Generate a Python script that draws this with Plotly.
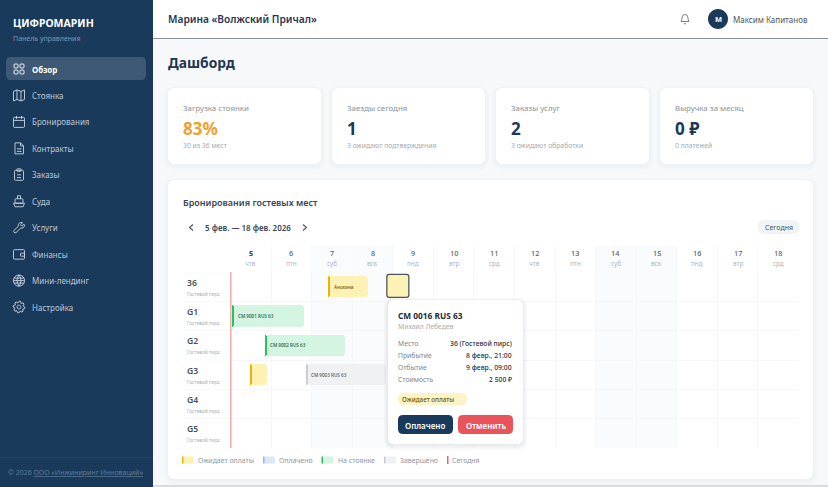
import math
import re

import plotly.graph_objects as go

W = 828
H = 487

#######################################################################################################################
# Data #
#######################################################################################################################

nav_items = ["Обзор", "Стоянка", "Бронирования", "Контракты", "Заказы", "Суда", "Услуги", "Финансы", "Мини-лендинг",
             "Настройка"]

card_titles = ["Загрузка стоянки", "Заезды сегодня", "Заказы услуг", "Выручка за месяц"]
card_values = ["83%", "1", "2", "0 ₽"]
card_notes = ["30 из 36 мест", "3 ожидают подтверждения", "3 ожидают обработки", "0 платежей"]

days = [5, 6, 7, 8, 9, 10, 11, 12, 13, 14, 15, 16, 17, 18]
weekdays = ["чтв", "птн", "суб", "вск", "пнд", "втр", "срд", "чтв", "птн", "суб", "вск", "пнд", "втр", "срд"]
weekend_days = [7, 8, 14, 15]
today = 5.0

berths = ["36", "G1", "G2", "G3", "G4", "G5"]
berth_note = "Гостевой пирс"

# start / end as day of February with the hour as a fraction
booking_berth = ["36", "G1", "G2", "G3", "G3"]
booking_start = [7.4, 5.03, 5.83, 5.46, 6.84]
booking_end = [8.37, 6.8, 7.82, 5.88, 8.82]
booking_status = ["pending", "parked", "parked", "pending", "done"]
booking_label = ["Анохина", "CM 9001 RUS 63", "CM 9002 RUS 63", "", "CM 9003 RUS 63"]

selected_berth = "36"
selected_start = 8.875
selected_end = 9.42

popup_fields = ["Место", "Прибытие", "Отбытие", "Стоимость"]
popup_values = ["36 (Гостевой пирс)", "8 февр., 21:00", "9 февр., 09:00", "2 500 ₽"]

legend_names = ["Ожидает оплаты", "Оплачено", "На стоянке", "Завершено"]

#######################################################################################################################
# Helpers #
#######################################################################################################################

FONT = "Noto Sans"
NAVY = "#1a3a5c"
body_colors = {"pending": "#fdf1b4", "paid": "#dbe8fb", "parked": "#d4f5e2", "done": "#f0f1f3"}
edge_colors = {"pending": "#eab308", "paid": "#93b8ee", "parked": "#22c55e", "done": "#c9ced4"}

shapes = []
annotations = []


def to_paper(d, ox=0, oy=0):
    return re.sub(r"(-?[\d.]+),(-?[\d.]+)",
                  lambda m: f"{(float(m[1]) + ox) / W:.5f},{1 - (float(m[2]) + oy) / H:.5f}", d)


def rrect(x0, y0, x1, y1, r):
    return (f"M{x0 + r},{y0} L{x1 - r},{y0} Q{x1},{y0} {x1},{y0 + r} L{x1},{y1 - r} Q{x1},{y1} {x1 - r},{y1} "
            f"L{x0 + r},{y1} Q{x0},{y1} {x0},{y1 - r} L{x0},{y0 + r} Q{x0},{y0} {x0 + r},{y0} Z ")


def ring(cx, cy, r):
    k = r * 0.552
    return (f"M{cx - r},{cy} C{cx - r},{cy - k} {cx - k},{cy - r} {cx},{cy - r} C{cx + k},{cy - r} {cx + r},{cy - k} "
            f"{cx + r},{cy} C{cx + r},{cy + k} {cx + k},{cy + r} {cx},{cy + r} C{cx - k},{cy + r} {cx - r},{cy + k} "
            f"{cx - r},{cy} Z ")


def fill_path(d, color, layer="below", ox=0, oy=0):
    shapes.append(dict(type="path", path=to_paper(d, ox, oy), xref="paper", yref="paper", fillcolor=color,
                       line=dict(width=0), layer=layer))


def stroke_path(d, color, width=1.0, layer="below", ox=0, oy=0):
    shapes.append(dict(type="path", path=to_paper(d, ox, oy), xref="paper", yref="paper",
                       line=dict(color=color, width=width), layer=layer))


def box(x0, y0, x1, y1, color, layer="below"):
    shapes.append(dict(type="rect", xref="paper", yref="paper", x0=x0 / W, x1=x1 / W, y0=1 - y1 / H, y1=1 - y0 / H,
                       fillcolor=color, line=dict(width=0), layer=layer))


def panel(x0, y0, x1, y1, r=7, layer="below", shadow=0.012):
    for grow, drop in [(4, 2), (2.5, 1.5), (1.2, 1)]:
        fill_path(rrect(x0 - grow, y0 - grow + drop, x1 + grow, y1 + grow + drop, r + grow),
                  f"rgba(30,50,80,{shadow})", layer)
    fill_path(rrect(x0, y0, x1, y1, r), "#ffffff", layer)


def text(x, y, s, size, color, weight=400, anchor="left"):
    # left aligned text renders about a pixel to the right of the anchor
    shift = -1 if anchor == "left" else 0
    annotations.append(dict(x=(x + shift) / W, y=1 - y / H, xref="paper", yref="paper", text=s, showarrow=False,
                            xanchor=anchor, yanchor="middle", borderpad=0,
                            font=dict(family=FONT, size=size, color=color, weight=weight)))


#######################################################################################################################
# Page chrome #
#######################################################################################################################

box(0, 0, W, H, "#f6f8fa")
box(0, 0, 153, H, NAVY)
box(153, 0, W, 38, "#ffffff")
box(153, 38, W, 39, "#8b9096")
box(153, 485, W, H, "#d9dcdf")

text(13, 23, "ЦИФРОМАРИН", 10.5, "#ffffff", 700)
text(13, 38, "Панель управления", 7, "#8398ae")
fill_path(rrect(6, 57, 146, 80, 5), "rgba(255,255,255,0.16)")

gear = ""
for i in range(24):
    rad = 5.8 if i % 3 != 2 else 4.2
    ang = i * math.pi / 12
    gear += f"{'M' if i == 0 else 'L'}{rad * math.cos(ang):.2f},{rad * math.sin(ang):.2f} "
gear += "Z " + ring(0, 0, 1.9)

nav_icons = [
    rrect(-5, -5, -1, -1, 1) + rrect(1, -5, 5, -1, 1) + rrect(-5, 1, -1, 5, 1) + rrect(1, 1, 5, 5, 1),
    "M-5.5,-4 L-2,-5.5 L2,-4 L5.5,-5.5 L5.5,4 L2,5.5 L-2,4 L-5.5,5.5 Z M-2,-5.5 L-2,4 M2,-4 L2,5.5",
    rrect(-5.5, -4.5, 5.5, 5.5, 1) + "M-5.5,-1.5 L5.5,-1.5 M-2.5,-6 L-2.5,-3 M2.5,-6 L2.5,-3",
    "M-4,-5.5 L1.5,-5.5 L4.5,-2.5 L4.5,5.5 L-4,5.5 Z M1.5,-5.5 L1.5,-2.5 L4.5,-2.5 M-2,0.5 L2.5,0.5 M-2,3 L2.5,3",
    rrect(-4.5, -4.5, 4.5, 5.5, 1) + rrect(-2, -6, 2, -3.5, 0.5) + "M-2,0 L2,0 M-2,2.8 L2,2.8",
    "M-5.5,2 L-4,5.5 L4,5.5 L5.5,2 Z " + rrect(-4, -2.5, 4, 2, 1) + "M-1.5,-2.5 L-1.5,-5.5 L1.5,-5.5 L1.5,-2.5",
    "M5,-3.5 L3,-1.5 L1.5,-3 L3.5,-5 Q0.5,-6 -0.5,-3.5 Q-0.7,-2.5 -0.5,-1.8 L-5,2.8 Q-5.5,3.5 -5,4.5 "
    "Q-4,5.5 -3,5 L1.5,0.5 Q4.5,1 5.5,-1.5 Q5.8,-2.5 5,-3.5 Z",
    rrect(-5.5, -4.5, 5.5, 5, 1) + rrect(1.5, -1, 5.5, 2, 0.5),
    ring(0, 0, 5.6) + "M0,-5.5 Q-4,0 0,5.5 Q4,0 0,-5.5 M-5.5,0 L5.5,0 M-5,-2.5 L5,-2.5 M-5,2.5 L5,2.5",
    gear,
]

for i, name in enumerate(nav_items):
    cy = 69 + i * 26.45
    active = i == 0
    stroke_path(nav_icons[i], "#ffffff" if active else "#cdd6e0", 0.9, ox=19, oy=cy)
    text(32, cy, name, 8, "#ffffff" if active else "#bcc8d5", 700 if active else 400)

box(0, 457, 153, 458, "rgba(255,255,255,0.05)")
text(8, 472, "© 2026 <u>ООО «Инжиниринг Инноваций»</u>", 7, "#5f7b98")

# Top bar
text(168, 19, "Марина «Волжский Причал»", 10.2, "#1f3550", 600)
stroke_path("M-4,2.5 Q-3,1 -3,-1 Q-3,-4.5 0,-4.5 Q3,-4.5 3,-1 Q3,1 4,2.5 Z M-1,4.5 Q0,5.5 1,4.5", "#6b747d", 0.9,
            ox=685, oy=19)
fill_path(ring(718, 19, 10), NAVY)
text(718, 19.5, "М", 7.5, "#ffffff", 700, "center")
text(733, 19.5, "Максим Капитанов", 8, "#4c5660")

text(168, 63, "Дашборд", 13.8, "#1f3550", 700)

# Stat cards
card_left = [168, 332, 496, 660]
card_right = [321, 485, 649, 813]
value_colors = ["#f0a030", NAVY, NAVY, NAVY]
for i in range(4):
    panel(card_left[i], 88, card_right[i], 164)
    text(card_left[i] + 15, 108, card_titles[i], 7.9, "#8a9299")
    text(card_left[i] + 15, 128, card_values[i], 17, value_colors[i], 700)
    text(card_left[i] + 15, 145, card_notes[i], 6.8, "#a5abb2")

# Schedule card
panel(168, 180, 813, 479)
text(183, 202, "Бронирования гостевых мест", 9, "#3a4654", 600)
stroke_path("M193,224.5 L189.5,227.5 L193,230.5", "#4a5560", 1.1)
text(205, 227, "5 фев. — 18 фев. 2026", 8, "#3a4654", 600)
stroke_path("M303,224.5 L306.5,227.5 L303,230.5", "#4a5560", 1.1)
fill_path(rrect(758, 220, 799, 234, 6), "#f1f4f7")
text(778.5, 227, "Сегодня", 7, "#4a5560", 400, "center")

#######################################################################################################################
# Schedule grid #
#######################################################################################################################

GRID_L, GRID_R, GRID_T, GRID_B = 230.5, 798.5, 272, 448
HEAD_T = 246
row_of = {name: i for i, name in enumerate(berths)}
GRID = "#f6f7f9"

for d in weekend_days:
    shapes.append(dict(type="rect", xref="x", yref="paper", x0=d, x1=d + 1, y0=1 - GRID_B / H, y1=1 - HEAD_T / H,
                       fillcolor="#fafbfc", line=dict(width=0), layer="below"))

for d in days[1:]:
    shapes.append(dict(type="line", xref="x", yref="paper", x0=d, x1=d, y0=1 - GRID_T / H, y1=1 - HEAD_T / H,
                       line=dict(color=GRID, width=1), layer="below"))

for r in range(len(berths) + 1):
    shapes.append(dict(type="line", xref="paper", yref="y", x0=183 / W, x1=GRID_L / W, y0=r - 0.5, y1=r - 0.5,
                       line=dict(color=GRID, width=1), layer="below"))

for d, wd in zip(days, weekdays):
    annotations.append(dict(x=d + 0.5, xref="x", y=1 - 253 / H, yref="paper", text=str(d), showarrow=False,
                            borderpad=0, font=dict(family=FONT, size=7.3, color="#333d47" if d == 5 else "#5a646e",
                                                   weight=700 if d == 5 else 500)))
    annotations.append(dict(x=d + 0.5, xref="x", y=1 - 263 / H, yref="paper", text=wd, showarrow=False, borderpad=0,
                            font=dict(family=FONT, size=6.3, color="#aeb4ba")))

for name in berths:
    annotations.append(dict(x=186 / W, xref="paper", y=row_of[name], yref="y", yshift=4, text=name, showarrow=False,
                            xanchor="left", borderpad=0, font=dict(family=FONT, size=8.6, color="#46515c", weight=600)))
    annotations.append(dict(x=186 / W, xref="paper", y=row_of[name], yref="y", yshift=-7, text=berth_note,
                            showarrow=False, xanchor="left", borderpad=0,
                            font=dict(family=FONT, size=4.8, color="#a9afb5")))

fig = go.Figure()

# Booking bars, one trace per status
for status in ["pending", "parked", "done"]:
    idx = [i for i, s in enumerate(booking_status) if s == status]
    y_vals = [row_of[booking_berth[i]] for i in idx]
    starts = [booking_start[i] for i in idx]
    fig.add_trace(go.Bar(
        y=y_vals,
        x=[booking_end[i] - booking_start[i] for i in idx],
        base=starts,
        orientation="h",
        width=0.73,
        marker=dict(color=body_colors[status], line=dict(width=0), cornerradius=2),
        hoverinfo="skip",
        showlegend=False,
    ))
    fig.add_trace(go.Bar(
        y=y_vals,
        x=[0.05] * len(idx),
        base=starts,
        orientation="h",
        width=0.73,
        marker=dict(color=edge_colors[status], line=dict(width=0), cornerradius=1),
        hoverinfo="skip",
        showlegend=False,
    ))

for i, label in enumerate(booking_label):
    if label:
        dark = {"pending": "#6b5a10", "parked": "#14532d", "done": "#4b5560"}[booking_status[i]]
        annotations.append(dict(x=booking_start[i], xref="x", xshift=5, y=row_of[booking_berth[i]], yref="y",
                                text=label, showarrow=False, xanchor="left", borderpad=0,
                                font=dict(family=FONT, size=4.6, color=dark, weight=500)))

# Selected booking
fig.add_trace(go.Bar(
    y=[row_of[selected_berth]],
    x=[selected_end - selected_start],
    base=[selected_start],
    orientation="h",
    width=0.8,
    marker=dict(color="#fdf1b4", line=dict(color="#4a5560", width=1.3), cornerradius=3),
    hoverinfo="skip",
    showlegend=False,
))

# Today marker, sits on the axis edge so it must not be clipped
fig.add_trace(go.Scatter(
    x=[today, today],
    y=[-0.5, len(berths) - 0.5],
    mode="lines",
    line=dict(color="#e8555c", width=1.5),
    cliponaxis=False,
    hoverinfo="skip",
    showlegend=False,
))

#######################################################################################################################
# Popup #
#######################################################################################################################

panel(388, 300, 523, 444, r=6, layer="above", shadow=0.03)
text(398, 315, "CM 0016 RUS 63", 8.3, "#1f2a35", 700)
text(398, 326, "Михаил Лебедев", 6.8, "#a5abb2")
for i in range(4):
    text(398, 343 + i * 12, popup_fields[i], 6.8, "#80878e")
    text(513, 343 + i * 12, popup_values[i], 6.8, "#2a3440", 500, "right")
fill_path(rrect(398, 393, 467, 405, 6), "#fdf3c4", "above")
text(402, 399.5, "Ожидает оплаты", 6.3, "#6b5a10", 500)
fill_path(rrect(398, 415, 453, 434, 5), NAVY, "above")
text(425.5, 425, "Оплачено", 8, "#ffffff", 600, "center")
fill_path(rrect(458, 415, 513, 434, 5), "#e8545a", "above")
text(485.5, 425, "Отменить", 8, "#ffffff", 600, "center")

#######################################################################################################################
# Legend #
#######################################################################################################################

legend_keys = ["pending", "paid", "parked", "done"]
legend_x = [182, 263, 321.5, 384]
for i in range(4):
    fill_path(rrect(legend_x[i], 456.5, legend_x[i] + 12, 463.5, 1), body_colors[legend_keys[i]])
    box(legend_x[i], 456.5, legend_x[i] + 1.5, 463.5, edge_colors[legend_keys[i]])
    text(legend_x[i] + 16, 460, legend_names[i], 6.9, "#8f969d")
box(447, 456, 448.5, 464, "#e5636b")
text(452, 460, "Сегодня", 6.9, "#8f969d")

#######################################################################################################################
# Layout #
#######################################################################################################################

fig.update_layout(
    width=W,
    height=H,
    margin=dict(l=0, r=0, t=0, b=0),
    paper_bgcolor="#f6f8fa",
    plot_bgcolor="rgba(0,0,0,0)",
    barmode="overlay",
    bargap=0,
    shapes=shapes,
    annotations=annotations,
    xaxis=dict(
        domain=[GRID_L / W, GRID_R / W],
        range=[days[0], days[-1] + 1],
        tickvals=days[1:],
        showticklabels=False,
        ticks="",
        showgrid=True,
        gridcolor=GRID,
        gridwidth=1,
        zeroline=False,
        fixedrange=True,
    ),
    yaxis=dict(
        domain=[1 - GRID_B / H, 1 - GRID_T / H],
        range=[len(berths) - 0.5, -0.5],
        tickvals=[r + 0.5 for r in range(-1, len(berths))],
        showticklabels=False,
        ticks="",
        showgrid=True,
        gridcolor=GRID,
        gridwidth=1,
        zeroline=False,
        fixedrange=True,
    ),
)

fig.write_html("out.html", config=dict(displayModeBar=False),
               post_script="document.body.style.margin='0';document.body.style.overflow='hidden';")
